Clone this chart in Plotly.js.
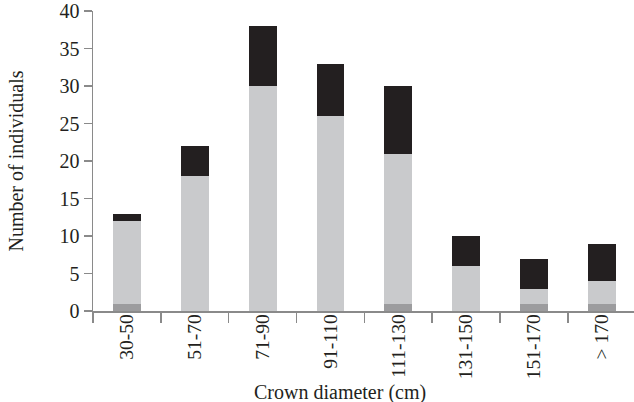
<!DOCTYPE html>
<html>
<head>
<meta charset="utf-8">
<script src="https://cdn.plot.ly/plotly-3.0.1.min.js"></script>
<style>html,body{margin:0;padding:0;background:#fff;}#chart{width:634px;height:402px;}</style>
</head>
<body>
<div id="chart"></div>
<script>
var categories = ["30-50", "51-70", "71-90", "91-110", "111-130", "131-150", "151-170", "> 170"];
var darkGrayValues = [1, 0, 0, 0, 1, 0, 1, 1];
var lightGrayValues = [11, 18, 30, 26, 20, 6, 2, 3];
var blackValues = [1, 4, 8, 7, 9, 4, 4, 5];
var yTickValues = [0, 5, 10, 15, 20, 25, 30, 35, 40];

var barWidth = 0.41;
var traces = [
  {type: "bar", x: categories, y: darkGrayValues, width: barWidth,
   marker: {color: "#9c9c9e", line: {width: 0}}, hoverinfo: "none"},
  {type: "bar", x: categories, y: lightGrayValues, width: barWidth,
   marker: {color: "#c9cacc", line: {width: 0}}, hoverinfo: "none"},
  {type: "bar", x: categories, y: blackValues, width: barWidth,
   marker: {color: "#231f20", line: {width: 0}}, hoverinfo: "none"}
];

var layout = {
  width: 634, height: 402,
  barmode: "stack",
  showlegend: false,
  paper_bgcolor: "#fff", plot_bgcolor: "#fff",
  margin: {l: 93, r: 0, t: 11, b: 91, pad: 0},
  font: {family: "Liberation Serif, Times New Roman, serif", color: "#231f20", size: 20},
  xaxis: {
    type: "category",
    range: [-0.5, 7.475],
    showline: true, linecolor: "#8a8a8a", linewidth: 1.5,
    ticks: "outside", tickson: "boundaries", ticklen: 10, tickwidth: 1.5, tickcolor: "#8a8a8a",
    tickangle: -90,
    tickfont: {size: 19.5},
    ticklabelstandoff: -6,
    showgrid: false, zeroline: false
  },
  yaxis: {
    range: [0, 40],
    tickvals: yTickValues,
    showline: true, linecolor: "#8a8a8a", linewidth: 1.5,
    ticks: "outside", ticklen: 8, tickwidth: 1.5, tickcolor: "#8a8a8a",
    tickfont: {size: 20},
    showgrid: false, zeroline: false,
    title: {text: "Number of individuals", font: {size: 20}, standoff: 30}
  },
  annotations: [{
    text: "Crown diameter (cm)", xref: "paper", yref: "paper",
    x: (340 - 93) / 541, y: -(392 - 311) / 300,
    xanchor: "center", yanchor: "middle", showarrow: false,
    font: {size: 20}
  }]
};

Plotly.newPlot("chart", traces, layout, {displayModeBar: false, staticPlot: true});
</script>
</body>
</html>
